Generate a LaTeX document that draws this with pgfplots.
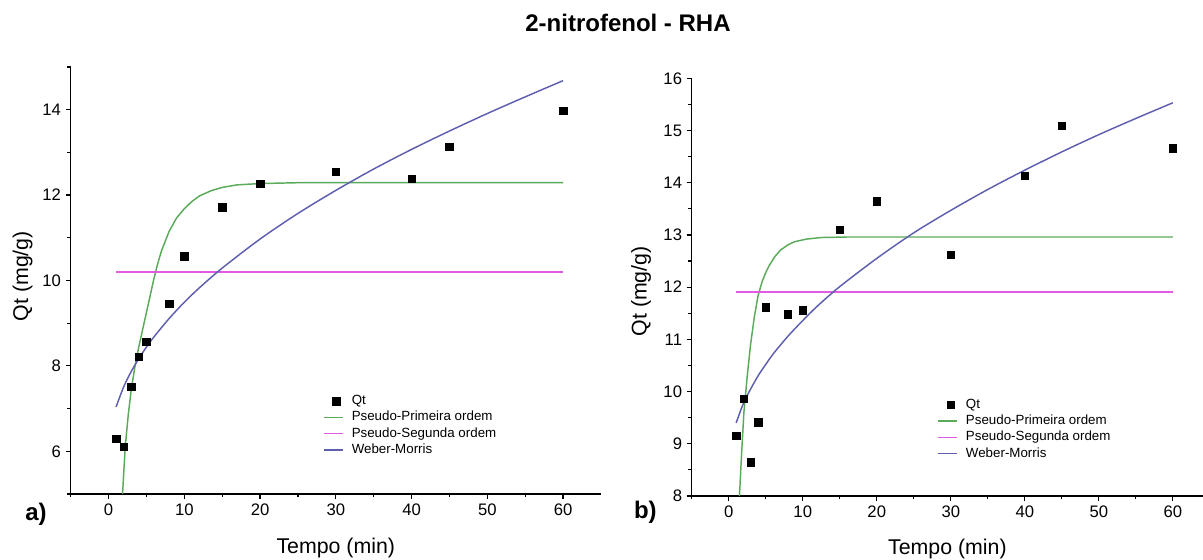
\documentclass[border=0pt]{standalone}
\usepackage{fontspec}
\setmainfont{Liberation Sans}
\usepackage{pgfplots}
\pgfplotsset{compat=1.18}
\definecolor{fitgreen}{RGB}{90,170,90}
\definecolor{fitmagenta}{RGB}{225,90,225}
\definecolor{fitblue}{RGB}{95,95,175}
\pgfplotsset{myaxis/.style={
  scale only axis, axis lines=left, axis line style={-, line width=1pt, black},
  tick align=outside, major tick length=3.75pt, minor tick length=2.6pt,
  every tick/.style={black, line width=0.9pt},
  tick label style={font=\fontsize{12.5}{14}\selectfont},
  /pgf/number format/assume math mode=true,
  label style={font=\fontsize{16}{18}\selectfont},
  legend cell align=left,
  legend style={draw=none, fill=none, inner sep=0pt, outer sep=0pt,
    font=\fontsize{10}{12}\selectfont, row sep=3pt,
    nodes={inner sep=0pt, text height=7.2pt, text depth=2pt},
    anchor=north west,
    /tikz/every odd column/.append style={column sep=6pt}},
  qtstyle/.style={only marks, mark=square*, mark size=2.8pt, black,
    legend image code/.code={\draw[black, fill=black, mark=square*, mark size=2.8pt, only marks] plot coordinates {(9.5pt,0pt)};}},
  greenstyle/.style={draw=fitgreen, line width=1.1pt,
    legend image code/.code={\draw[draw=fitgreen, line width=1.1pt] (0pt,0pt) -- (14.5pt,0pt);}},
  magstyle/.style={draw=fitmagenta, line width=1.1pt,
    legend image code/.code={\draw[draw=fitmagenta, line width=1.1pt] (0pt,0pt) -- (14.5pt,0pt);}},
  bluestyle/.style={draw=fitblue, line width=1.1pt,
    legend image code/.code={\draw[draw=fitblue, line width=1.1pt] (0pt,0pt) -- (14.5pt,0pt);}},
}}
\begin{document}
\begin{tikzpicture}
\useasboundingbox (0,0) rectangle (902.25pt,420pt);
% ---------------- a) ----------------
\begin{axis}[myaxis,
  at={(53pt,49.5pt)}, anchor=south west,
  width=397.7pt, height=320.25pt,
  xmin=-5, xmax=65, ymin=5, ymax=15,
  xtick={0,10,...,60}, minor xtick={-5,5,...,55},
  ytick={6,8,...,14}, minor ytick={5,7,...,15},
  xlabel={Tempo (min)}, ylabel={Qt (mg/g)},
  xlabel style={at={(axis description cs:0.5,-0.1265)}, anchor=center},
  ylabel style={at={(axis description cs:-0.0905,0.51)}, anchor=center},
  legend style={at={(axis description cs:0.4758,0.232)}},
]
\addplot[qtstyle] coordinates {(1,6.29) (2,6.11) (3,7.51) (4,8.21) (5,8.56) (8,9.46) (10,10.57) (15,11.72) (20,12.26) (30,12.55) (40,12.38) (45,13.13) (60,13.97)};
\addlegendentry{Qt}
\addplot[greenstyle] coordinates {(1.75,4.65) (1.85,5.0) (2.2,6.1) (2.6,6.85) (3.0,7.45) (3.5,8.0) (4.0,8.45) (4.5,8.85) (5.0,9.25) (5.5,9.65) (6.0,10.05) (6.5,10.4) (7.0,10.7) (8.0,11.15) (9.0,11.47) (10.0,11.68) (11.0,11.85) (12.0,11.98) (13.5,12.1) (15,12.18) (17,12.24) (20,12.27) (25,12.29) (60,12.29)};
\addlegendentry{Pseudo-Primeira ordem}
\addplot[magstyle] coordinates {(1,10.2) (60,10.2)};
\addlegendentry{Pseudo-Segunda ordem}
\addplot[bluestyle, smooth] coordinates {(1,7.04) (2,7.51) (3,7.87) (4,8.17) (5,8.44) (6,8.68) (8,9.11) (10,9.49) (12,9.83) (15,10.29) (20,10.97) (25,11.57) (30,12.11) (35,12.61) (40,13.07) (45,13.50) (50,13.91) (55,14.30) (60,14.68)};
\addlegendentry{Weber-Morris}
\addplot[qtstyle, forget plot] coordinates {(1,6.29) (2,6.11) (3,7.51) (4,8.21) (5,8.56) (8,9.46) (10,10.57) (15,11.72) (20,12.26) (30,12.55) (40,12.38) (45,13.13) (60,13.97)};
\end{axis}
% ---------------- b) ----------------
\begin{axis}[myaxis,
  at={(518.8pt,48pt)}, anchor=south west,
  width=383.5pt, height=313.3pt,
  xmin=-5, xmax=64.09, ymin=8, ymax=16,
  xtick={0,10,...,60}, minor xtick={-5,5,...,55},
  ytick={8,9,...,16}, minor ytick={8.5,9.5,...,15.5},
  xlabel={Tempo (min)}, ylabel={Qt (mg/g)},
  xlabel style={at={(axis description cs:0.5,-0.127)}, anchor=center},
  ylabel style={at={(axis description cs:-0.099,0.49)}, anchor=center},
  legend style={at={(axis description cs:0.48,0.233)}},
]
\addplot[qtstyle] coordinates {(1,9.15) (2,9.86) (3,8.65) (4,9.41) (5,11.61) (8,11.48) (10,11.56) (15,13.10) (20,13.64) (30,12.62) (40,14.13) (45,15.09) (60,14.66)};
\addlegendentry{Qt}
\addplot[greenstyle] coordinates {(1.35,7.7) (1.45,8.0) (1.75,8.85) (2.05,9.6) (2.5,10.3) (2.95,10.9) (3.45,11.42) (3.95,11.83) (4.5,12.1) (5.0,12.28) (5.5,12.42) (6.2,12.58) (7.0,12.71) (8.0,12.81) (8.9,12.87) (10.5,12.92) (12.5,12.95) (16,12.96) (60,12.96)};
\addlegendentry{Pseudo-Primeira ordem}
\addplot[magstyle] coordinates {(1,11.91) (60,11.91)};
\addlegendentry{Pseudo-Segunda ordem}
\addplot[bluestyle, smooth] coordinates {(1,9.40) (2,9.78) (3,10.06) (4,10.31) (5,10.52) (6,10.72) (8,11.06) (10,11.36) (12,11.64) (15,12.01) (20,12.55) (25,13.04) (30,13.47) (35,13.87) (40,14.24) (45,14.59) (50,14.92) (55,15.23) (60,15.53)};
\addlegendentry{Weber-Morris}
\addplot[qtstyle, forget plot] coordinates {(1,9.15) (2,9.86) (3,8.65) (4,9.41) (5,11.61) (8,11.48) (10,11.56) (15,13.10) (20,13.64) (30,12.62) (40,14.13) (45,15.09) (60,14.66)};
\end{axis}
% ---------------- texts ----------------
\node[font=\fontsize{18}{20}\selectfont\bfseries] at (471pt,402.75pt) {2-nitrofenol - RHA};
\node[font=\fontsize{18}{20}\selectfont\bfseries, anchor=west] at (15.5pt,34.5pt) {a)};
\node[font=\fontsize{18}{20}\selectfont\bfseries, anchor=west] at (472pt,36pt) {b)};
\end{tikzpicture}
\end{document}
